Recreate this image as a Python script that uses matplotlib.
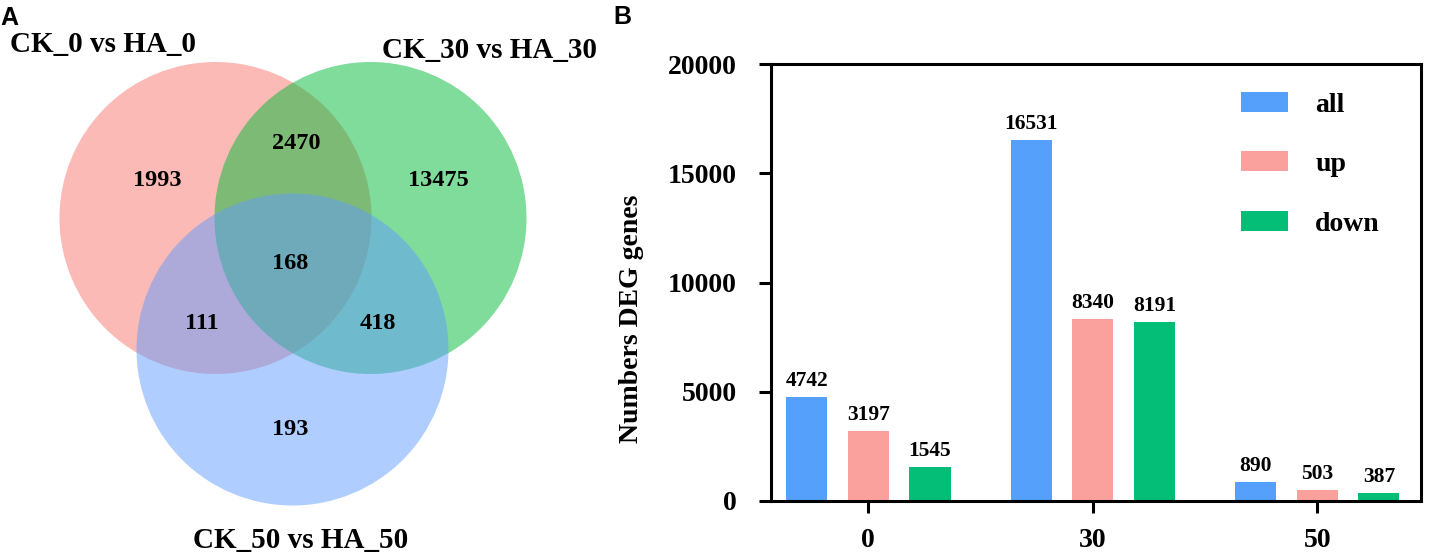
import matplotlib
matplotlib.use("Agg")
import matplotlib.pyplot as plt
from matplotlib.patches import Circle

plt.rcParams['font.family'] = ['Liberation Serif', 'DejaVu Serif']
plt.rcParams['font.weight'] = 'bold'

# ---- data ----
venn_sets = ['CK_0 vs HA_0', 'CK_30 vs HA_30', 'CK_50 vs HA_50']
venn_regions = ['only0', 'only30', 'only50', '0&30', '0&50', '30&50', 'all']
venn_counts = [1993, 13475, 193, 2470, 111, 418, 168]

groups = ['0', '30', '50']
n_all = [4742, 16531, 890]
n_up = [3197, 8340, 503]
n_down = [1545, 8191, 387]
series_names = ['all', 'up', 'down']

# ---- styles / layout ----
W, H = 1429, 556
venn_cols = ['#F8766D', '#00BA38', '#619CFF']
bar_cols = ['#55A0FA', '#FAA19E', '#04BE78']

# venn geometry in pixel units of the left panel
R = 156
centers = [(215.5, 218), (370.5, 218), (292.5, 349.5)]
title_pos = [(102.5, 52), (489.5, 58), (301, 548)]
region_pos = {'only0': (157, 186), 'only30': (438, 185.7), 'only50': (290, 435),
              '0&30': (296, 149.3), '0&50': (201.7, 329.3), '30&50': (378, 329.3),
              'all': (290.5, 269.3)}

fig = plt.figure(figsize=(W / 100, H / 100), dpi=100)

# ---------------- panel A: venn ----------------
axv = fig.add_axes([0, 0, 620 / W, 1])
axv.set_xlim(0, 620)
axv.set_ylim(H, 0)
axv.axis('off')
for c, col in zip(centers, venn_cols):
    axv.add_patch(Circle(c, R, facecolor=col, alpha=0.5, edgecolor='none'))
for name, (x, y) in zip(venn_sets, title_pos):
    axv.text(x, y, name, ha='center', va='baseline', fontsize=21)
for reg, cnt in zip(venn_regions, venn_counts):
    x, y = region_pos[reg]
    axv.text(x, y, str(cnt), ha='center', va='baseline', fontsize=17.5)

fig.text(0, 1 - 25 / H, 'A', family='Liberation Sans', fontsize=18,
         fontweight='bold', va='baseline', ha='left')
fig.text(613 / W, 1 - 24 / H, 'B', family='Liberation Sans', fontsize=18,
         fontweight='bold', va='baseline', ha='left')

# ---------------- panel B: bars ----------------
ax = fig.add_axes([770.7 / W, (H - 501) / H, 650 / W, 437 / H])
x = list(range(len(groups)))
off = 0.2748
bw = 0.183
for k, (vals, col, lab) in enumerate(zip([n_all, n_up, n_down], bar_cols, series_names)):
    bars = ax.bar([xi + (k - 1) * off for xi in x], vals, width=bw, color=col, label=lab)
    ax.bar_label(bars, padding=4.3, fontsize=15.5, fontweight='bold')

ax.set_xlim(-0.435, 2.461)
ax.set_ylim(0, 20000)
ax.set_yticks([0, 5000, 10000, 15000, 20000])
ax.set_xticks(x)
ax.set_xticklabels(groups)
for s in ax.spines.values():
    s.set_linewidth(2.2)
ax.tick_params(axis='both', direction='out', length=8.6, width=2.2, labelsize=20)
ax.tick_params(axis='y', pad=15.8)
ax.tick_params(axis='x', pad=11)

ax.set_ylabel('Numbers DEG genes', fontsize=20, fontweight='bold')
ax.yaxis.set_label_coords(-0.2134, 0.4165)
ax.yaxis.label.set_verticalalignment('center')

ax.legend(frameon=False, loc='upper left', bbox_to_anchor=(0.723, 0.936),
          handlelength=1.69, handleheight=0.72, handletextpad=1.0,
          labelspacing=1.22, borderpad=0, borderaxespad=0, fontsize=20)

fig.savefig('out.png', dpi=100)
